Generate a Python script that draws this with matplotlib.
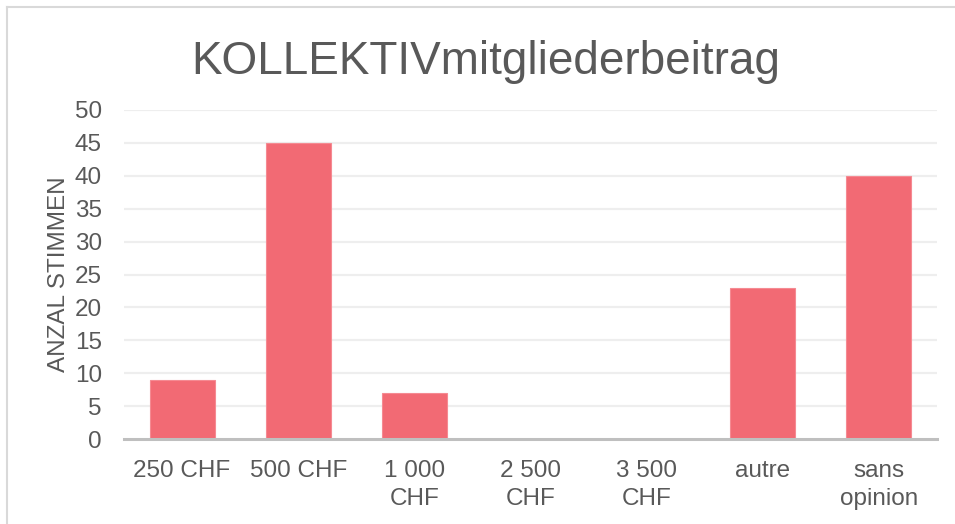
import matplotlib
matplotlib.use("Agg")
import matplotlib.pyplot as plt
from matplotlib.lines import Line2D

categories = ["250 CHF", "500 CHF", "1 000\nCHF", "2 500\nCHF", "3 500\nCHF", "autre", "sans\nopinion"]
votes = [9, 45, 7, 0, 0, 23, 40]
y_ticks = [0, 5, 10, 15, 20, 25, 30, 35, 40, 45, 50]
title = "KOLLEKTIVmitgliederbeitrag"
y_label = "ANZAL STIMMEN"

TEXT = "#595959"
BAR = "#F26A74"

plt.rcParams['font.family'] = ['Liberation Sans', 'DejaVu Sans']

W, H = 955, 524
fig = plt.figure(figsize=(W / 100, H / 100), dpi=100)
ax = fig.add_axes([124 / W, 85 / H, (937 - 124) / W, (439 - 110) / H])

x = list(range(len(categories)))
ax.bar(x, votes, width=0.56, color=BAR, edgecolor="#F58A92", linewidth=0.8, zorder=3)

ax.set_xlim(-0.5, len(categories) - 0.5)
ax.set_ylim(0, 50)
ax.set_yticks(y_ticks)
ax.set_yticklabels([str(v) for v in y_ticks])
ax.set_xticks(x)
ax.set_xticklabels(categories, linespacing=1.35)

for v in y_ticks[1:]:
    ax.axhline(v, color="#EEEEEE", linewidth=1.6, zorder=1)

for s in ["top", "right", "left"]:
    ax.spines[s].set_visible(False)
ax.spines["bottom"].set_color("#BFBFBF")
ax.spines["bottom"].set_linewidth(2.2)
ax.spines["bottom"].set_zorder(4)

ax.tick_params(axis="both", length=0, colors=TEXT, labelsize=17.5)
ax.tick_params(axis="x", pad=15)
ax.tick_params(axis="y", pad=16)

ax.set_ylabel(y_label, color=TEXT, fontsize=17.5, labelpad=3)

fig.text(486 / W, 1 - 74 / H, title, ha="center", va="baseline", color=TEXT, fontsize=33)

# chart border
fig.add_artist(Line2D([7 / W, 7 / W], [0, 1 - 7 / H], color="#D9D9D9", linewidth=1.5, transform=fig.transFigure))
fig.add_artist(Line2D([7 / W, 1], [1 - 7 / H, 1 - 7 / H], color="#D9D9D9", linewidth=1.5, transform=fig.transFigure))

fig.savefig("out.png", dpi=100, facecolor="white")
